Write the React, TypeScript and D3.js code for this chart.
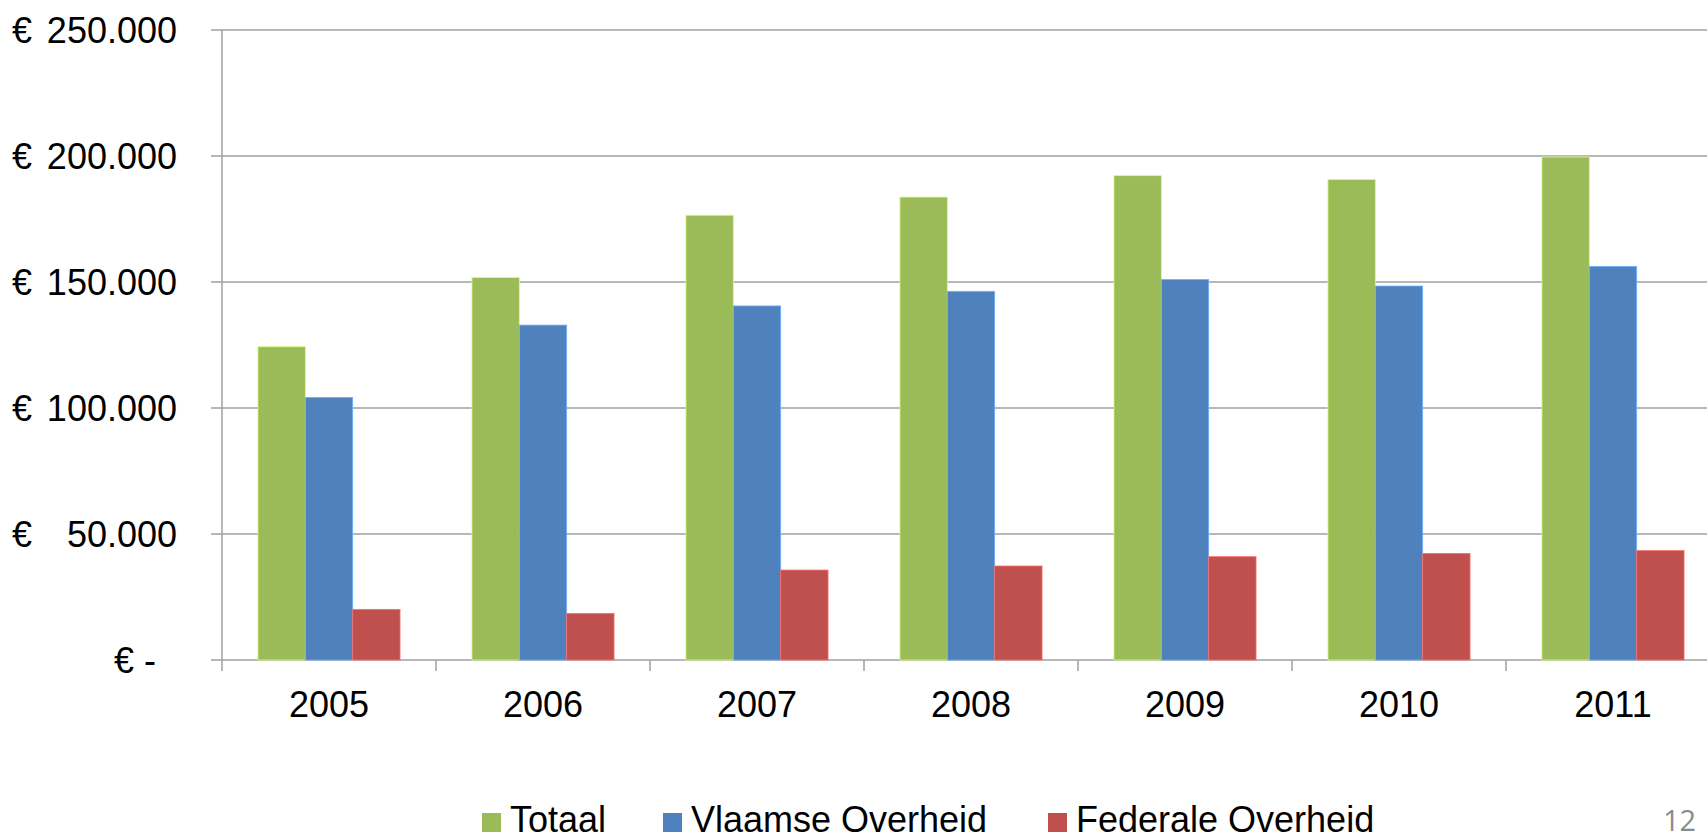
import React from "react";
import * as d3 from "d3";

const years = ["2005", "2006", "2007", "2008", "2009", "2010", "2011"];
const seriesNames = ["Totaal", "Vlaamse Overheid", "Federale Overheid"];
const totaal = [124300, 151800, 176500, 183700, 192200, 190700, 199600];
const vlaamse = [104200, 132900, 140500, 146300, 151000, 148400, 156200];
const federale = [20100, 18500, 35700, 37300, 41000, 42300, 43400];
const yTicks = [0, 50000, 100000, 150000, 200000, 250000];
const colors = ["#9BBB59", "#4F81BD", "#C0504D"];

const width = 1707;
const height = 839;
const font = "'Liberation Sans', Arial, sans-serif";

const nl = d3.formatLocale({ decimal: ",", thousands: ".", grouping: [3], currency: ["€ ", ""] });
const fmt = nl.format(",.0f");

export default function App() {
  const values = [totaal, vlaamse, federale];
  const left = 222;
  const step = 214;

  const x = d3
    .scaleBand()
    .domain(years)
    .range([left, left + step * years.length])
    .paddingInner(0.336)
    .paddingOuter(0.168);
  const xSub = d3.scaleBand().domain(seriesNames).range([0, x.bandwidth()]);
  const y = d3.scaleLinear().domain([0, 250000]).range([660, 30]);

  const legendX = [482, 663, 1048];

  return (
    <svg
      width={width}
      height={height}
      style={{ position: "absolute", left: 0, top: 0, background: "#fff" }}
      fontFamily={font}
    >
      {/* gridlines + y ticks */}
      {yTicks.map(t => (
        <line key={t} x1={211} x2={width + 20} y1={y(t)} y2={y(t)} stroke="#a0a0a0" strokeWidth={1.5} />
      ))}
      <line x1={left} x2={left} y1={y(250000)} y2={671} stroke="#a0a0a0" strokeWidth={1.5} />
      {years.map((yr, i) => (
        <line
          key={yr}
          x1={left + step * (i + 1)}
          x2={left + step * (i + 1)}
          y1={660}
          y2={671}
          stroke="#a0a0a0"
          strokeWidth={1.5}
        />
      ))}

      {/* bars */}
      {years.map((yr, i) => (
        <g key={yr} transform={`translate(${x(yr)},0)`}>
          {seriesNames.map((s, j) => (
            <rect
              key={s}
              x={xSub(s)}
              y={y(values[j][i])}
              width={xSub.bandwidth()}
              height={y(0) - y(values[j][i])}
              fill={colors[j]}
              stroke={d3.color(colors[j])!.brighter(0.9).formatHex()}
              strokeWidth={0.8}
            />
          ))}
        </g>
      ))}

      {/* y labels */}
      {yTicks.map(t =>
        t === 0 ? (
          <text key={t} x={114} y={y(t)} dy="0.35em" fontSize={36} fill="#000">
            € -
          </text>
        ) : (
          <g key={t}>
            <text x={12} y={y(t)} dy="0.35em" fontSize={36} fill="#000">
              €
            </text>
            <text x={177} y={y(t)} dy="0.35em" fontSize={36} textAnchor="end" fill="#000">
              {fmt(t)}
            </text>
          </g>
        )
      )}

      {/* x labels */}
      {years.map(yr => (
        <text
          key={yr}
          x={(x(yr) as number) + x.bandwidth() / 2}
          y={717}
          fontSize={36}
          textAnchor="middle"
          fill="#000"
        >
          {yr}
        </text>
      ))}

      {/* legend */}
      {seriesNames.map((s, j) => (
        <g key={s} transform={`translate(${legendX[j]},813)`}>
          <rect x={0} y={0} width={19} height={19} fill={colors[j]} />
          <text x={28} y={19} fontSize={36} fill="#000">
            {s}
          </text>
        </g>
      ))}

      <text x={1663} y={831} fontSize={29} fill="#8a8a8a" fontFamily="'Open Sans', 'Noto Sans', sans-serif">
        12
      </text>
    </svg>
  );
}
